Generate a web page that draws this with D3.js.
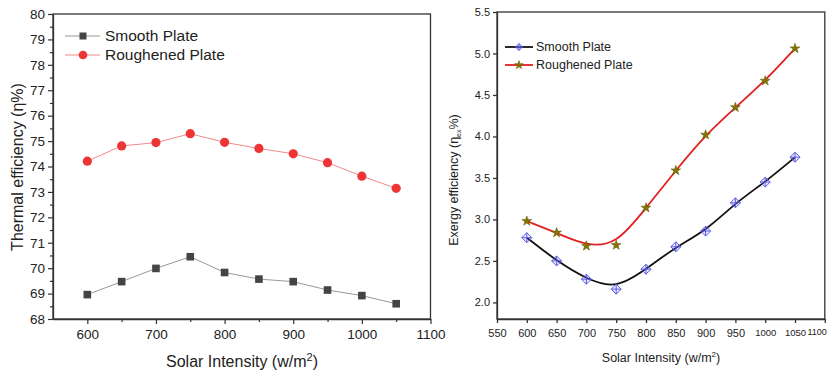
<!DOCTYPE html>
<html>
<head>
<meta charset="utf-8">
<script src="https://cdn.jsdelivr.net/npm/d3@7"></script>
<style>
  body { margin: 0; background: #fff; }
  svg { display: block; }
</style>
</head>
<body>
<svg width="829" height="372"></svg>
<script>
const svg = d3.select("svg");

// data
const intensity = [600, 650, 700, 750, 800, 850, 900, 950, 1000, 1050];
const thermalSmooth = [68.96, 69.47, 69.99, 70.45, 69.83, 69.57, 69.47, 69.14, 68.92, 68.60];
const thermalRough = [74.21, 74.81, 74.94, 75.29, 74.95, 74.71, 74.50, 74.15, 73.62, 73.14];
const exergySmooth = [2.78, 2.50, 2.28, 2.16, 2.40, 2.67, 2.86, 3.20, 3.45, 3.75];
const exergyRough = [2.98, 2.84, 2.68, 2.69, 3.14, 3.59, 4.02, 4.35, 4.67, 5.06];
const seriesNames = ["Smooth Plate", "Roughened Plate"];
const leftYTicks = d3.range(68, 81, 1);
const leftXTicks = [600, 700, 800, 900, 1000, 1100];
const rightYTicks = [2.0, 2.5, 3.0, 3.5, 4.0, 4.5, 5.0, 5.5];
const rightXTicks = d3.range(550, 1101, 50);

const axisColor = "#333";

// ---------- left chart: thermal efficiency ----------
const lx = d3.scaleLinear().domain([550, 1100]).range([53, 430.5]);
const ly = d3.scaleLinear().domain([68, 80]).range([319, 14]);
const left = svg.append("g").attr("font-family", "'Liberation Sans', Arial, sans-serif");

// minor ticks first
left.append("g").attr("transform", `translate(0,${ly.range()[0]})`)
  .call(d3.axisBottom(lx).tickValues(d3.range(650, 1100, 100)).tickSize(3).tickFormat(""))
  .call(g => g.select(".domain").remove());
left.append("g").attr("transform", `translate(${lx.range()[0]},0)`)
  .call(d3.axisLeft(ly).tickValues(d3.range(68.5, 80, 1)).tickSize(3).tickFormat(""))
  .call(g => g.select(".domain").remove());

const lxAxis = left.append("g").attr("transform", `translate(0,${ly.range()[0]})`)
  .call(d3.axisBottom(lx).tickValues(leftXTicks).tickFormat(d3.format("d")).tickSize(5).tickSizeOuter(0).tickPadding(5));
const lyAxis = left.append("g").attr("transform", `translate(${lx.range()[0]},0)`)
  .call(d3.axisLeft(ly).tickValues(leftYTicks).tickSize(5).tickSizeOuter(0).tickPadding(3));
[lxAxis, lyAxis].forEach(a => {
  a.attr("font-family", null).attr("font-size", 13.5);
  a.selectAll("line,path").attr("stroke", axisColor).attr("stroke-width", 1.3);
  a.selectAll("text").attr("fill", "#222");
});
left.selectAll(".tick line").attr("stroke", axisColor).attr("stroke-width", 1.2);

left.append("rect")
  .attr("x", lx.range()[0]).attr("y", ly.range()[1])
  .attr("width", lx.range()[1] - lx.range()[0]).attr("height", ly.range()[0] - ly.range()[1])
  .attr("fill", "none").attr("stroke", axisColor).attr("stroke-width", 1.3);

const lline = d3.line().x((d, i) => lx(intensity[i])).y(d => ly(d));
left.append("path").datum(thermalSmooth).attr("d", lline)
  .attr("fill", "none").attr("stroke", "#999").attr("stroke-width", 1);
left.append("path").datum(thermalRough).attr("d", lline)
  .attr("fill", "none").attr("stroke", "#f08a8a").attr("stroke-width", 1);

left.selectAll(".sq").data(thermalSmooth).join("rect")
  .attr("x", (d, i) => lx(intensity[i]) - 3.8).attr("y", d => ly(d) - 3.8)
  .attr("width", 7.6).attr("height", 7.6).attr("fill", "#444");
left.selectAll(".ci").data(thermalRough).join("circle")
  .attr("cx", (d, i) => lx(intensity[i])).attr("cy", d => ly(d))
  .attr("r", 4.6).attr("fill", "#ee3535");

// legend
const lLeg = left.append("g");
[[36, "#999", "sq"], [55, "#f08a8a", "ci"]].forEach(([yy, c, m], i) => {
  lLeg.append("line").attr("x1", 65).attr("x2", 100).attr("y1", yy).attr("y2", yy)
    .attr("stroke", c).attr("stroke-width", 1);
  if (m === "sq") lLeg.append("rect").attr("x", 79.5).attr("y", yy - 3.5).attr("width", 7).attr("height", 7).attr("fill", "#444");
  else lLeg.append("circle").attr("cx", 83).attr("cy", yy).attr("r", 4.3).attr("fill", "#ee3535");
  lLeg.append("text").attr("x", 105).attr("y", yy).attr("dy", "0.35em")
    .attr("font-size", 15.5).attr("fill", "#222").text(seriesNames[i]);
});

// titles
const lxt = left.append("text").attr("x", 242).attr("y", 367).attr("text-anchor", "middle")
  .attr("font-size", 16).attr("fill", "#222");
lxt.append("tspan").text("Solar Intensity (w/m");
lxt.append("tspan").attr("font-size", 11).attr("dy", -6).text("2");
lxt.append("tspan").attr("dy", 6).text(")");
left.append("text").attr("transform", "translate(23,167) rotate(-90)")
  .attr("text-anchor", "middle").attr("font-size", 16).attr("fill", "#222")
  .text("Thermal efficiency (\u03b7%)");

// ---------- right chart: exergy efficiency ----------
const rx = d3.scaleLinear().domain([550, 1100]).range([497, 824.8]);
const ry = d3.scaleLinear().domain([1.8, 5.5]).range([319, 12]);
const right = svg.append("g").attr("font-family", "'Liberation Sans', Arial, sans-serif");

const rxAxis = right.append("g").attr("transform", `translate(0,${ry.range()[0]})`)
  .call(d3.axisBottom(rx).tickValues(rightXTicks).tickFormat(d3.format("d")).tickSize(4).tickSizeOuter(0).tickPadding(6));
const ryAxis = right.append("g").attr("transform", `translate(${rx.range()[0]},0)`)
  .call(d3.axisLeft(ry).tickValues(rightYTicks).tickFormat(d3.format(".1f")).tickSize(4).tickSizeOuter(0).tickPadding(3));
[rxAxis, ryAxis].forEach(a => {
  a.attr("font-family", null).attr("font-size", 11);
  a.selectAll("line,path").attr("stroke", axisColor).attr("stroke-width", 1.3);
  a.selectAll("text").attr("fill", "#222");
});
// four-digit labels are set a little smaller so they fit their slot
rxAxis.selectAll("text").filter(d => d === 1000 || d === 1050).attr("font-size", 9.5);
// keep the last label inside the page edge
rxAxis.selectAll("text").filter(d => d === 1100)
  .attr("text-anchor", "end").attr("dx", 1.5).attr("font-size", 9);

right.append("rect")
  .attr("x", rx.range()[0]).attr("y", ry.range()[1])
  .attr("width", rx.range()[1] - rx.range()[0]).attr("height", ry.range()[0] - ry.range()[1])
  .attr("fill", "none").attr("stroke", axisColor).attr("stroke-width", 1.3);

const rline = d3.line().curve(d3.curveBasis).x((d, i) => rx(intensity[i])).y(d => ry(d));
right.append("path").datum(exergySmooth).attr("d", rline)
  .attr("fill", "none").attr("stroke", "#111").attr("stroke-width", 1.8);
right.append("path").datum(exergyRough).attr("d", rline)
  .attr("fill", "none").attr("stroke", "#e32020").attr("stroke-width", 1.8);

const diamond = (g, cx, cy, s) => {
  g.append("path")
    .attr("d", `M${cx},${cy - s}L${cx + s},${cy}L${cx},${cy + s}L${cx - s},${cy}Z M${cx - s},${cy}H${cx + s} M${cx},${cy - s}V${cy + s}`)
    .attr("fill", "rgba(120,120,255,0.15)").attr("stroke", "#5a5ae6").attr("stroke-width", 1);
};
const star = d3.symbol().type(d3.symbolStar);
exergySmooth.forEach((d, i) => diamond(right, rx(intensity[i]), ry(d), 5));
right.selectAll(".st").data(exergyRough).join("path")
  .attr("transform", (d, i) => `translate(${rx(intensity[i])},${ry(d)})`)
  .attr("d", star.size(30)).attr("fill", "#857400").attr("stroke", "#5c5000").attr("stroke-width", 0.5);

// legend
const rLeg = right.append("g");
[[47, "#111"], [65, "#e32020"]].forEach(([yy, c], i) => {
  rLeg.append("line").attr("x1", 505).attr("x2", 533).attr("y1", yy).attr("y2", yy)
    .attr("stroke", c).attr("stroke-width", 1.8);
  if (i === 0) diamond(rLeg, 519, yy, 3.5);
  else rLeg.append("path").attr("transform", `translate(519,${yy})`).attr("d", star.size(22))
    .attr("fill", "#857400").attr("stroke", "#5c5000").attr("stroke-width", 0.5);
  rLeg.append("text").attr("x", 536).attr("y", yy).attr("dy", "0.35em")
    .attr("font-size", 12.5).attr("fill", "#222").text(seriesNames[i]);
});

const rxt = right.append("text").attr("x", 661).attr("y", 362).attr("text-anchor", "middle")
  .attr("font-size", 12.5).attr("fill", "#222");
rxt.append("tspan").text("Solar Intensity (w/m");
rxt.append("tspan").attr("font-size", 8).attr("dy", -5).text("2");
rxt.append("tspan").attr("dy", 5).text(")");
const ryt = right.append("text").attr("transform", "translate(458,180) rotate(-90)")
  .attr("text-anchor", "middle").attr("font-size", 12.5).attr("fill", "#222");
ryt.append("tspan").text("Exergy efficiency (\u03b7");
ryt.append("tspan").attr("font-size", 7).attr("dy", 3).text("ex");
ryt.append("tspan").attr("dy", -3).text("%)");
</script>
</body>
</html>
